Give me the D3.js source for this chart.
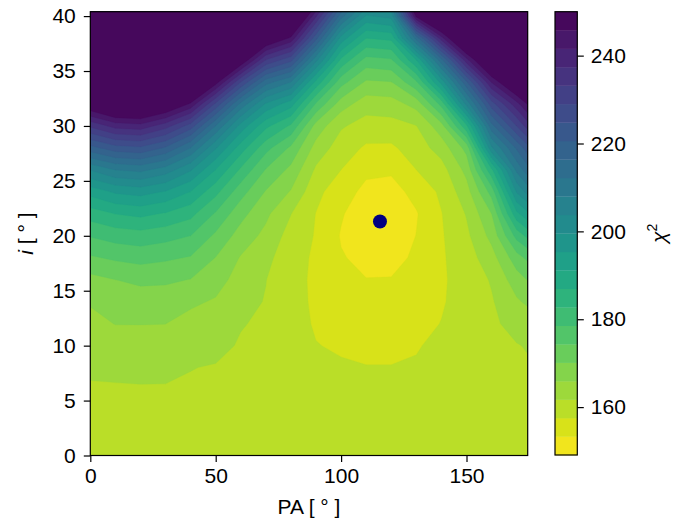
<!DOCTYPE html>
<html><head><meta charset="utf-8">
<script src="https://cdn.jsdelivr.net/npm/d3@7"></script>
<style>
body{margin:0;background:#fff}
text{font-family:"Liberation Sans",Arial,Helvetica,sans-serif;fill:#000}
</style>
</head><body>
<svg id="chart" width="688" height="525"></svg>
<script>
// ---- data ----
const paValues  = [0,10,20,30,40,50,60,70,80,90,100,110,120,130,140,150,160,170,180];
const incValues = [0,2,4,6,8,10,12,14,16,18,20,22,24,26,28,30,32,34,36,38,40,42];
// chi2 values, one array per PA column, indexed by inclination (incValues)
const chi2PA0   = [159.5,160.1,160.7,161.3,162.3,163.6,165.0,166.2,168.8,173.8,178.8,184.7,192.8,204,219,234,251,268,285,300,315,330];
const chi2PA10  = [159.5,160.1,160.7,161.3,162.6,164.4,166.0,167.6,170.1,175.0,180.3,187,196,208,223,239,257,274,290,305,320,335];
const chi2PA20  = [159.6,160.2,160.8,161.4,162.7,164.5,166.0,168.0,171.0,175.8,181.0,188,197,209,224,240,258,275,291,306,320,334];
const chi2PA30  = [159.6,160.2,160.8,161.4,162.6,164.4,165.95,167.9,170.8,175.0,180.0,186.5,195,206,220,235,253,270,287,302,317,332];
const chi2PA40  = [159.6,160.2,160.8,161.3,161.8,163.0,164.6,166.6,170.0,174.0,178.5,184,191,200,212,227,245,262,279,295,310,325];
const chi2PA50  = [159.6,160.1,160.6,161.0,161.5,162.6,164.0,165.5,167.5,170.0,173.5,178,184,191,200,212,228,248,265,282,298,314];
const chi2PA60  = [159.5,159.9,160.3,160.7,161.1,161.4,161.9,163.0,164.3,165.6,168.3,171.5,176,182,189,198,211,229,251,268,285,302];
const chi2PA70  = [159.4,159.7,160.0,160.3,160.6,160.9,161.2,161.5,161.8,163.0,164.8,166.8,169.8,174,180,188,199,214,233,253,270,287];
const chi2PA80  = [159.3,159.5,159.6,159.6,159.4,159.0,158.7,158.6,158.6,158.8,160.0,161.8,165.6,169.0,173.5,182,193,208,226,245,262,279];
const chi2PA90  = [159.2,159.2,159.0,158.6,158.0,157.6,157.2,157.0,156.9,157.0,157.2,157.4,158.6,161.0,164.3,168.5,178,190,205,222,238,254];
const chi2PA100 = [159.2,159.0,158.8,158.3,157.8,157.2,156.3,155.5,154.5,153.6,153.0,153.7,155.2,157.5,159.6,162.2,168,176,186,198,214,230];
const chi2PA110 = [159.3,159.1,158.8,158.2,157.6,156.9,155.8,154.6,153.4,152.3,151.0,150.8,152.2,154.2,156.9,160.0,163.5,169.5,177,187,199,211];
const chi2PA120 = [159.3,159.1,158.8,158.2,157.6,156.9,155.9,154.7,153.5,152.0,150.3,149.9,151.8,153.9,156.8,160.2,164.0,170.0,178,188,201,214];
const chi2PA130 = [159.3,159.1,158.8,158.3,157.8,157.3,156.5,155.6,154.7,154.0,153.4,153.0,154.6,157.5,159.6,161.6,167.5,178,191,214,247,275];
const chi2PA140 = [159.3,159.2,159.1,158.9,158.6,158.2,157.6,157.2,157.0,157.0,157.1,157.35,158.3,160.0,163.5,168.5,180,197,215,240,262,284];
const chi2PA150 = [159.4,159.4,159.4,159.3,159.2,159.0,158.9,158.9,159.1,159.8,160.8,162.0,164.2,167.2,171.5,186,205,220,240,260,278,296];
const chi2PA160 = [159.5,159.7,159.9,160.1,160.3,160.6,160.9,161.3,162.1,164.2,167.2,170.1,176,186,203,215,227,242,258,275,292,309];
const chi2PA170 = [159.6,160.0,160.4,160.8,161.2,161.5,163.2,165.3,168.2,172.5,180,190,200,209,217,229,240,255,270,286,302,318];
const chi2PA180 = [159.7,160.2,160.7,161.2,161.8,162.6,165.0,168.5,173,179,189,200,212,222,231,243,254,268,282,298,314,330];
const chi2Columns = [chi2PA0,chi2PA10,chi2PA20,chi2PA30,chi2PA40,chi2PA50,chi2PA60,chi2PA70,chi2PA80,
                     chi2PA90,chi2PA100,chi2PA110,chi2PA120,chi2PA130,chi2PA140,chi2PA150,chi2PA160,chi2PA170,chi2PA180];
const bestFit = [115.5, 21.3];           // [PA, i]
const levelMin = 149.1, levelMax = 250, nBands = 24;
const xTicks = [0,50,100,150];
const yTicks = [0,5,10,15,20,25,30,35,40];
const cbTicks = [160,180,200,220,240];

// ---- layout ----
const svg = d3.select("#chart");
const L = 90.3, R = 527.7, T = 11.7, B = 455.5;
const FS = 21;
const x = d3.scaleLinear().domain([0,174.4]).range([L,R]);
const y = d3.scaleLinear().domain([0,40.4]).range([B,T]);

const levels = d3.range(nBands+1).map(k => levelMin + k*(levelMax-levelMin)/nBands);
const bandColor = k => d3.interpolateViridis(1 - (k+0.5)/nBands);

// flatten grid row-major (rows = inclination)
const n = paValues.length, m = incValues.length;
const values = [];
for (let r=0;r<m;r++) for (let c=0;c<n;c++) values.push(chi2Columns[c][r]);

const gx = d3.scaleLinear().domain([0.5, n-0.5]).range([paValues[0], paValues[n-1]]);
const gy = d3.scaleLinear().domain([0.5, m-0.5]).range([incValues[0], incValues[m-1]]);
const proj = d3.geoTransform({point: function(px,py){ this.stream.point(x(gx(px)), y(gy(py))); }});
const path = d3.geoPath(proj);

svg.append("clipPath").attr("id","clip").append("rect")
  .attr("x",L).attr("y",T).attr("width",R-L).attr("height",B-T);
const plot = svg.append("g").attr("clip-path","url(#clip)");
plot.append("rect").attr("x",L).attr("y",T).attr("width",R-L).attr("height",B-T).attr("fill",bandColor(0));
const contours = d3.contours().size([n,m]).thresholds(levels.slice(1,nBands))(values);
contours.forEach((c,idx) => {
  plot.append("path").attr("d", path(c)).attr("fill", bandColor(idx+1))
      .attr("stroke", bandColor(idx+1)).attr("stroke-width",0.3);
});
plot.append("circle").attr("cx",x(bestFit[0])).attr("cy",y(bestFit[1])).attr("r",7).attr("fill","#000080");

// frame
svg.append("rect").attr("x",L).attr("y",T).attr("width",R-L).attr("height",B-T)
  .attr("fill","none").attr("stroke","#000").attr("stroke-width",1.2);

// axes
const ax = svg.append("g").attr("transform",`translate(0,${B})`)
  .call(d3.axisBottom(x).tickValues(xTicks).tickSize(6.5).tickPadding(6).tickFormat(d3.format("d")));
const ay = svg.append("g").attr("transform",`translate(${L},0)`)
  .call(d3.axisLeft(y).tickValues(yTicks).tickSize(6.5).tickPadding(8).tickFormat(d3.format("d")));
[ax,ay].forEach(g => {
  g.select(".domain").remove();
  g.selectAll("line").attr("stroke","#000").attr("stroke-width",1.2);
  g.selectAll("text").attr("font-size",FS).attr("font-family",'"Liberation Sans",Arial,sans-serif').attr("fill","#000");
});

// axis labels
svg.append("text").attr("x",(L+R)/2).attr("y",514).attr("text-anchor","middle").attr("font-size",FS)
  .text("PA [ ° ]");
const yl = svg.append("text").attr("transform",`translate(33,${(T+B)/2}) rotate(-90)`)
  .attr("text-anchor","middle").attr("font-size",FS);
yl.append("tspan").attr("font-style","italic").text("i");
yl.append("tspan").text(" [ ° ]");

// colorbar
const cbL = 555, cbR = 577.3, cbT = 11.7, cbB = 455;
const cb = d3.scaleLinear().domain([levelMin, levelMax]).range([cbB, cbT]);
const cbg = svg.append("g");
d3.range(nBands).forEach(k => {
  cbg.append("rect").attr("x",cbL).attr("width",cbR-cbL)
    .attr("y",cb(levels[k+1])).attr("height",cb(levels[k])-cb(levels[k+1])+0.3)
    .attr("fill",bandColor(k));
});
cbg.append("rect").attr("x",cbL).attr("y",cbT).attr("width",cbR-cbL).attr("height",cbB-cbT)
  .attr("fill","none").attr("stroke","#000").attr("stroke-width",1.2);
const acb = svg.append("g").attr("transform",`translate(${cbR},0)`)
  .call(d3.axisRight(cb).tickValues(cbTicks).tickSize(6.5).tickPadding(7));
acb.select(".domain").remove();
acb.selectAll("line").attr("stroke","#000").attr("stroke-width",1.2);
acb.selectAll("text").attr("font-size",FS).attr("font-family",'"Liberation Sans",Arial,sans-serif').attr("fill","#000");

const cl = svg.append("text").attr("transform",`translate(666,${(cbT+cbB)/2}) rotate(-90)`)
  .attr("text-anchor","middle").attr("font-size",FS);
cl.append("tspan").attr("font-style","italic").text("χ");
cl.append("tspan").attr("font-size",14).attr("dy",-9).text("2");
</script>
</body></html>
